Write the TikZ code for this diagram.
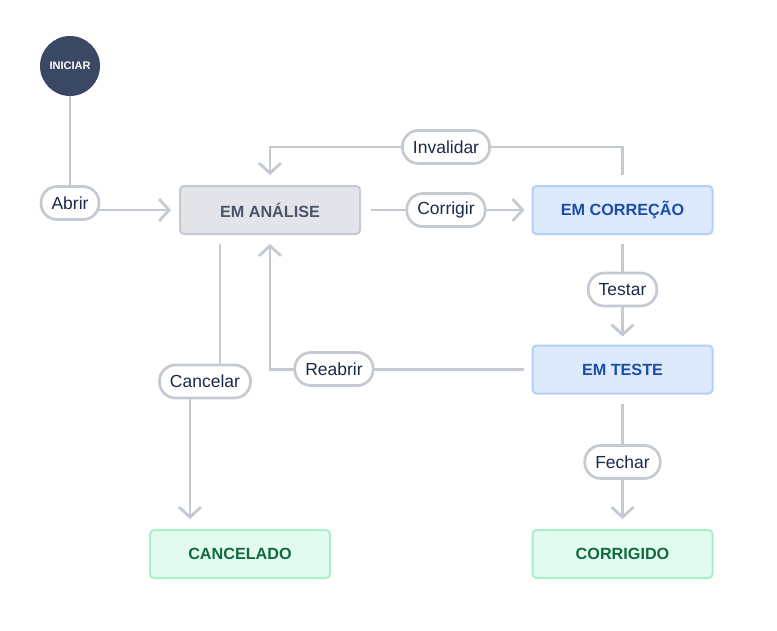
\documentclass[tikz,border=0pt]{standalone}
\usepackage{fontspec}
\setmainfont{Liberation Sans}
\usetikzlibrary{arrows.meta}
\definecolor{edgec}{HTML}{C4C9D2}
\definecolor{inic}{HTML}{3B4863}
\definecolor{labtxt}{HTML}{1B2A4A}
\definecolor{grayfill}{HTML}{E2E4E9}
\definecolor{graytxt}{HTML}{4A5568}
\definecolor{bluefill}{HTML}{DDE9FC}
\definecolor{blueline}{HTML}{B3CFF7}
\definecolor{bluetxt}{HTML}{1D4EA3}
\definecolor{greenfill}{HTML}{E3FBEF}
\definecolor{greenline}{HTML}{A7F0C9}
\definecolor{greentxt}{HTML}{0E6B3C}
\tikzset{
  statebox/.style={draw, line width=2pt, rounded corners=4pt, minimum width=180pt, minimum height=48pt,
    font=\fontsize{16.2}{19}\selectfont\bfseries},
  graybox/.style={statebox, fill=grayfill, draw=edgec, text=graytxt},
  bluebox/.style={statebox, fill=bluefill, draw=blueline, text=bluetxt},
  greenbox/.style={statebox, fill=greenfill, draw=greenline, text=greentxt},
  pill/.style={draw=edgec, fill=white, line width=2.7pt, rounded corners=16pt, minimum height=33pt,
    inner xsep=10.5pt, text=labtxt, font=\fontsize{17.5}{20}\selectfont},
  conn/.style={draw=edgec, line width=2.8pt, -{Straight Barb[length=10pt,width=22pt]}},
  plain/.style={draw=edgec, line width=2.8pt}
}
\begin{document}
\begin{tikzpicture}[x=1pt,y=-1pt]
\useasboundingbox (0,0) rectangle (777,630);
% states
\node[circle, fill=inic, minimum size=60pt, inner sep=0pt, text=white,
  font=\fontsize{11}{12}\selectfont\bfseries] (ini) at (70,66) {INICIAR};
\node[graybox] (ana) at (270,210) {EM ANÁLISE};
\node[bluebox] (cor) at (622.5,210) {EM CORREÇÃO};
\node[bluebox] (tes) at (622.5,369.5) {EM TESTE};
\node[greenbox] (can) at (240,554) {CANCELADO};
\node[greenbox] (crg) at (622.5,554) {CORRIGIDO};
% label positions
\coordinate (pabr) at (70,203);
\coordinate (pinv) at (446,147);
\coordinate (pcorr) at (446,210);
\coordinate (ptes) at (622.5,289.5);
\coordinate (prea) at (334,369);
\coordinate (pcan) at (205,381.5);
\coordinate (pfec) at (622.5,462);
% connectors
\draw[conn, shorten >=8pt] (ini.south) |- (ana.west);
\draw[conn, shorten <=10pt, shorten >=7pt] (ana) -- (cor);
\draw[conn, shorten <=10pt, shorten >=10pt] (cor.north) |- (pinv) -| (ana.north);
\draw[conn, shorten <=9pt, shorten >=8pt] (cor) -- (tes);
\draw[conn, shorten <=8pt, shorten >=9pt] (tes.west) -| (ana.south);
\draw[conn, shorten <=9pt, shorten >=10pt] ([xshift=-50pt]ana.south) -- ([xshift=-50pt]ana.south |- pcan)
  -- ([xshift=-50pt]can.north |- pcan) -- ([xshift=-50pt]can.north);
\draw[conn, shorten <=9pt, shorten >=10pt] (tes) -- (crg);
% labels
\node[pill] (labr) at (pabr) {Abrir};
\node[pill] (linv) at (pinv) {Invalidar};
\node[pill] (lcorr) at (pcorr) {Corrigir};
\node[pill] (ltes) at (ptes) {Testar};
\node[pill] (lrea) at (prea) {Reabrir};
\node[pill] (lcan) at (pcan) {Cancelar};
\node[pill] (lfec) at (pfec) {Fechar};
\end{tikzpicture}
\end{document}
